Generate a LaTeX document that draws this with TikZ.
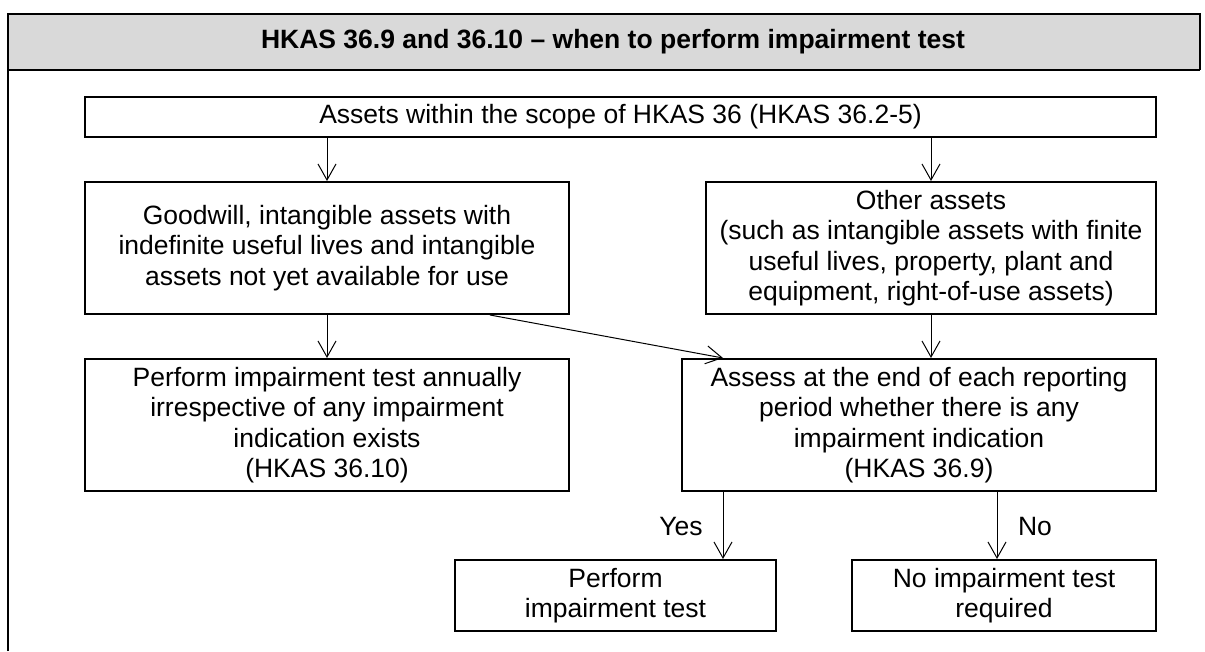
\documentclass[tikz,border=0pt]{standalone}
\usepackage{fontspec}
\setmainfont{Liberation Sans}
\usetikzlibrary{arrows.meta}
\definecolor{hdr}{HTML}{D9D9D9}
\begin{document}
\begin{tikzpicture}[x=1pt,y=-1pt,
  txt/.style={font=\fontsize{26.5}{30.5}\selectfont},
  box/.style={txt, draw, line width=2pt, align=center, inner sep=0pt},
  arr/.style={line width=1pt, -{Straight Barb[length=16pt,width=18pt,line width=1pt]}},
  frame/.style={line width=2pt}]
\useasboundingbox (0,0) rectangle (1205,651);
\fill[white] (0,0) rectangle (1205,651);
\fill[hdr] (8,14) rectangle (1200,70);
\draw[frame] (8,651) -- (8,14) -- (1200,14) -- (1200,70);
\draw[frame] (8,70) -- (1200,70);
\node[txt, font=\fontsize{26.5}{30.5}\selectfont\bfseries] (title) at (613,42) {HKAS 36.9 and 36.10 – when to perform impairment test};

\node[box, minimum width=1071, minimum height=40] (top) at (620.5,117) {Assets within the scope of HKAS 36 (HKAS 36.2-5)};
\node[box, minimum width=484, minimum height=132] (good) at (327,248) {Goodwill, intangible assets with\\indefinite useful lives and intangible\\assets not yet available for use};
\node[box, minimum width=450, minimum height=132] (other) at (931,248) {Other assets\\(such as intangible assets with finite\\useful lives, property, plant and\\equipment, right-of-use assets)};
\node[box, minimum width=484, minimum height=132] (annual) at (327,425) {Perform impairment test annually\\irrespective of any impairment\\indication exists\\(HKAS 36.10)};
\node[box, minimum width=474, minimum height=132] (assess) at (919,425) {Assess at the end of each reporting\\period whether there is any\\impairment indication\\(HKAS 36.9)};
\node[box, minimum width=321, minimum height=71] (perf) at (615.5,595.5) {Perform\\impairment test};
\node[box, minimum width=304, minimum height=71] (noimp) at (1004,595.5) {No impairment test\\required};

\coordinate (yx) at (723,0);
\coordinate (nx) at (997,0);
\coordinate (ox) at (931,0);

\draw[arr] (good.north |- top.south) -- (good.north);
\draw[arr] (ox |- top.south) -- (ox |- other.north);
\draw[arr] (good.south) -- (annual.north);
\draw[arr] (ox |- other.south) -- (ox |- assess.north);
\draw[arr] ([xshift=163pt]good.south) -- ([xshift=-196pt]assess.north);
\draw[arr] (yx |- assess.south) -- (yx |- perf.north);
\draw[arr] (nx |- assess.south) -- (nx |- noimp.north);
\node[txt] (yes) at (681,527) {Yes};
\node[txt] (no) at (1035,527) {No};
\end{tikzpicture}
\end{document}
